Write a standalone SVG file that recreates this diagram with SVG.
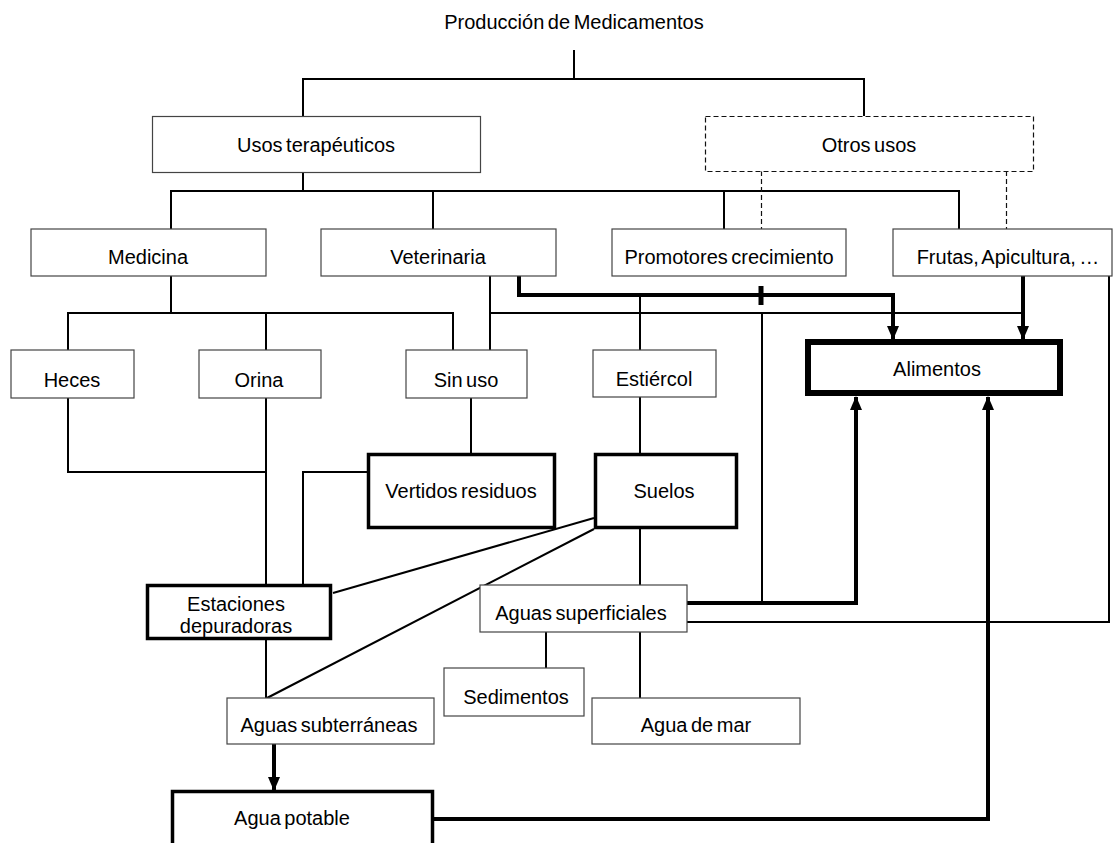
<svg xmlns="http://www.w3.org/2000/svg" width="1118" height="843" viewBox="0 0 1118 843">
<style>
text{font-family:"Liberation Sans",Arial,sans-serif;font-size:20px;fill:#000;text-anchor:middle;word-spacing:-2px}
.b{fill:#fff;stroke:#444;stroke-width:1.2}
.d{fill:#fff;stroke:#111;stroke-width:1.2;stroke-dasharray:5,3}
.k{fill:#fff;stroke:#000;stroke-width:3.5}
.a{fill:#fff;stroke:#000;stroke-width:6}
.c path{fill:none;stroke:#000;stroke-width:2}
.c path.t{stroke-width:4}
.c path.ds{stroke-width:1.2;stroke-dasharray:5,3;stroke:#111}
</style>
<defs>
<marker id="ae" markerUnits="userSpaceOnUse" markerWidth="14" markerHeight="12" refX="13" refY="6" orient="auto" viewBox="0 0 14 12">
<path d="M0,0 L14,6 L0,12 Z" fill="#000"/>
</marker>
</defs>
<g id="connectors" class="c">
<path d="M574,50 V79"/>
<path d="M303,116 V79 H864 V116"/>
<path d="M303,172 V191"/>
<path d="M171,229 V191 H959 V229"/>
<path d="M433,191 V229"/>
<path d="M724,191 V229"/>
<path class="ds" d="M761.5,171 V229"/>
<path class="ds" d="M1006.5,171 V229"/>
<path d="M171,276 V313"/>
<path d="M68,350 V313 H453 V350"/>
<path d="M266,313 V350"/>
<path d="M490,276 V350"/>
<path d="M490,313 H1023"/>
<path class="t" d="M519,276 V295 H893 V339" marker-end="url(#ae)"/>
<path d="M640,295 V350"/>
<path class="t" d="M761,286 V305" style="stroke-width:5"/>
<path class="t" d="M1023,276 V339" marker-end="url(#ae)"/>
<path d="M762,313 V603"/>
<path d="M1109,276 V622 H687"/>
<path class="t" d="M687,603 H856 V397" marker-end="url(#ae)"/>
<path class="t" d="M434,819 H988 V397" marker-end="url(#ae)"/>
<path d="M68,398 V472 H266"/>
<path d="M266,398 V584"/>
<path d="M266,640 V698"/>
<path d="M471,398 V453"/>
<path d="M367,472 H303 V584"/>
<path d="M640,397 V453"/>
<path d="M640,529 V585"/>
<path d="M594,518 L333,593"/>
<path d="M594,529 L267,698"/>
<path d="M546,632 V668"/>
<path d="M640,632 V698"/>
<path class="t" d="M274,744 V790" marker-end="url(#ae)"/>
</g>
<text id="title" x="574" y="29">Producción de Medicamentos</text>
<g id="usos"><rect class="b" x="152.5" y="116.5" width="328" height="56"/><text x="316" y="152">Usos terapéuticos</text></g>
<g id="otros"><rect class="d" x="705.5" y="116.5" width="328" height="55"/><text x="869" y="152">Otros usos</text></g>
<g id="medicina"><rect class="b" x="31" y="229" width="235" height="47"/><text x="148" y="264">Medicina</text></g>
<g id="veterinaria"><rect class="b" x="321" y="229" width="235" height="47"/><text x="438" y="264">Veterinaria</text></g>
<g id="promotores"><rect class="b" x="612" y="229" width="234" height="47"/><text x="729" y="264">Promotores crecimiento</text></g>
<g id="frutas"><rect class="b" x="893" y="229" width="219" height="47"/><text x="1008" y="264">Frutas, Apicultura, …</text></g>
<g id="heces"><rect class="b" x="11" y="350" width="123" height="48"/><text x="72" y="387">Heces</text></g>
<g id="orina"><rect class="b" x="199" y="350" width="122" height="48"/><text x="259" y="387">Orina</text></g>
<g id="sinuso"><rect class="b" x="406" y="350" width="121" height="48"/><text x="466" y="387">Sin uso</text></g>
<g id="estiercol"><rect class="b" x="593" y="350" width="123" height="47"/><text x="654" y="386">Estiércol</text></g>
<g id="alimentos"><rect class="a" x="808" y="342" width="252" height="51"/><text x="937" y="376">Alimentos</text></g>
<g id="vertidos"><rect class="k" x="368.5" y="454.5" width="186" height="73"/><text x="461" y="498">Vertidos residuos</text></g>
<g id="suelos"><rect class="k" x="595.5" y="454.5" width="141" height="73"/><text x="664" y="498">Suelos</text></g>
<g id="estaciones"><rect class="k" x="147.5" y="585.5" width="183" height="53"/><text x="236" y="611">Estaciones</text><text x="236" y="633">depuradoras</text></g>
<g id="superficiales"><rect class="b" x="480" y="585" width="207" height="47"/><text x="581" y="620">Aguas superficiales</text></g>
<g id="sedimentos"><rect class="b" x="444" y="668" width="140" height="48"/><text x="516" y="704">Sedimentos</text></g>
<g id="subterraneas"><rect class="b" x="227" y="698" width="207" height="46"/><text x="329" y="732">Aguas subterráneas</text></g>
<g id="mar"><rect class="b" x="592" y="698" width="208" height="46"/><text x="696" y="732">Agua de mar</text></g>
<g id="potable"><rect class="k" x="172.5" y="791.5" width="260" height="60"/><text x="292" y="825">Agua potable</text></g>
</svg>
